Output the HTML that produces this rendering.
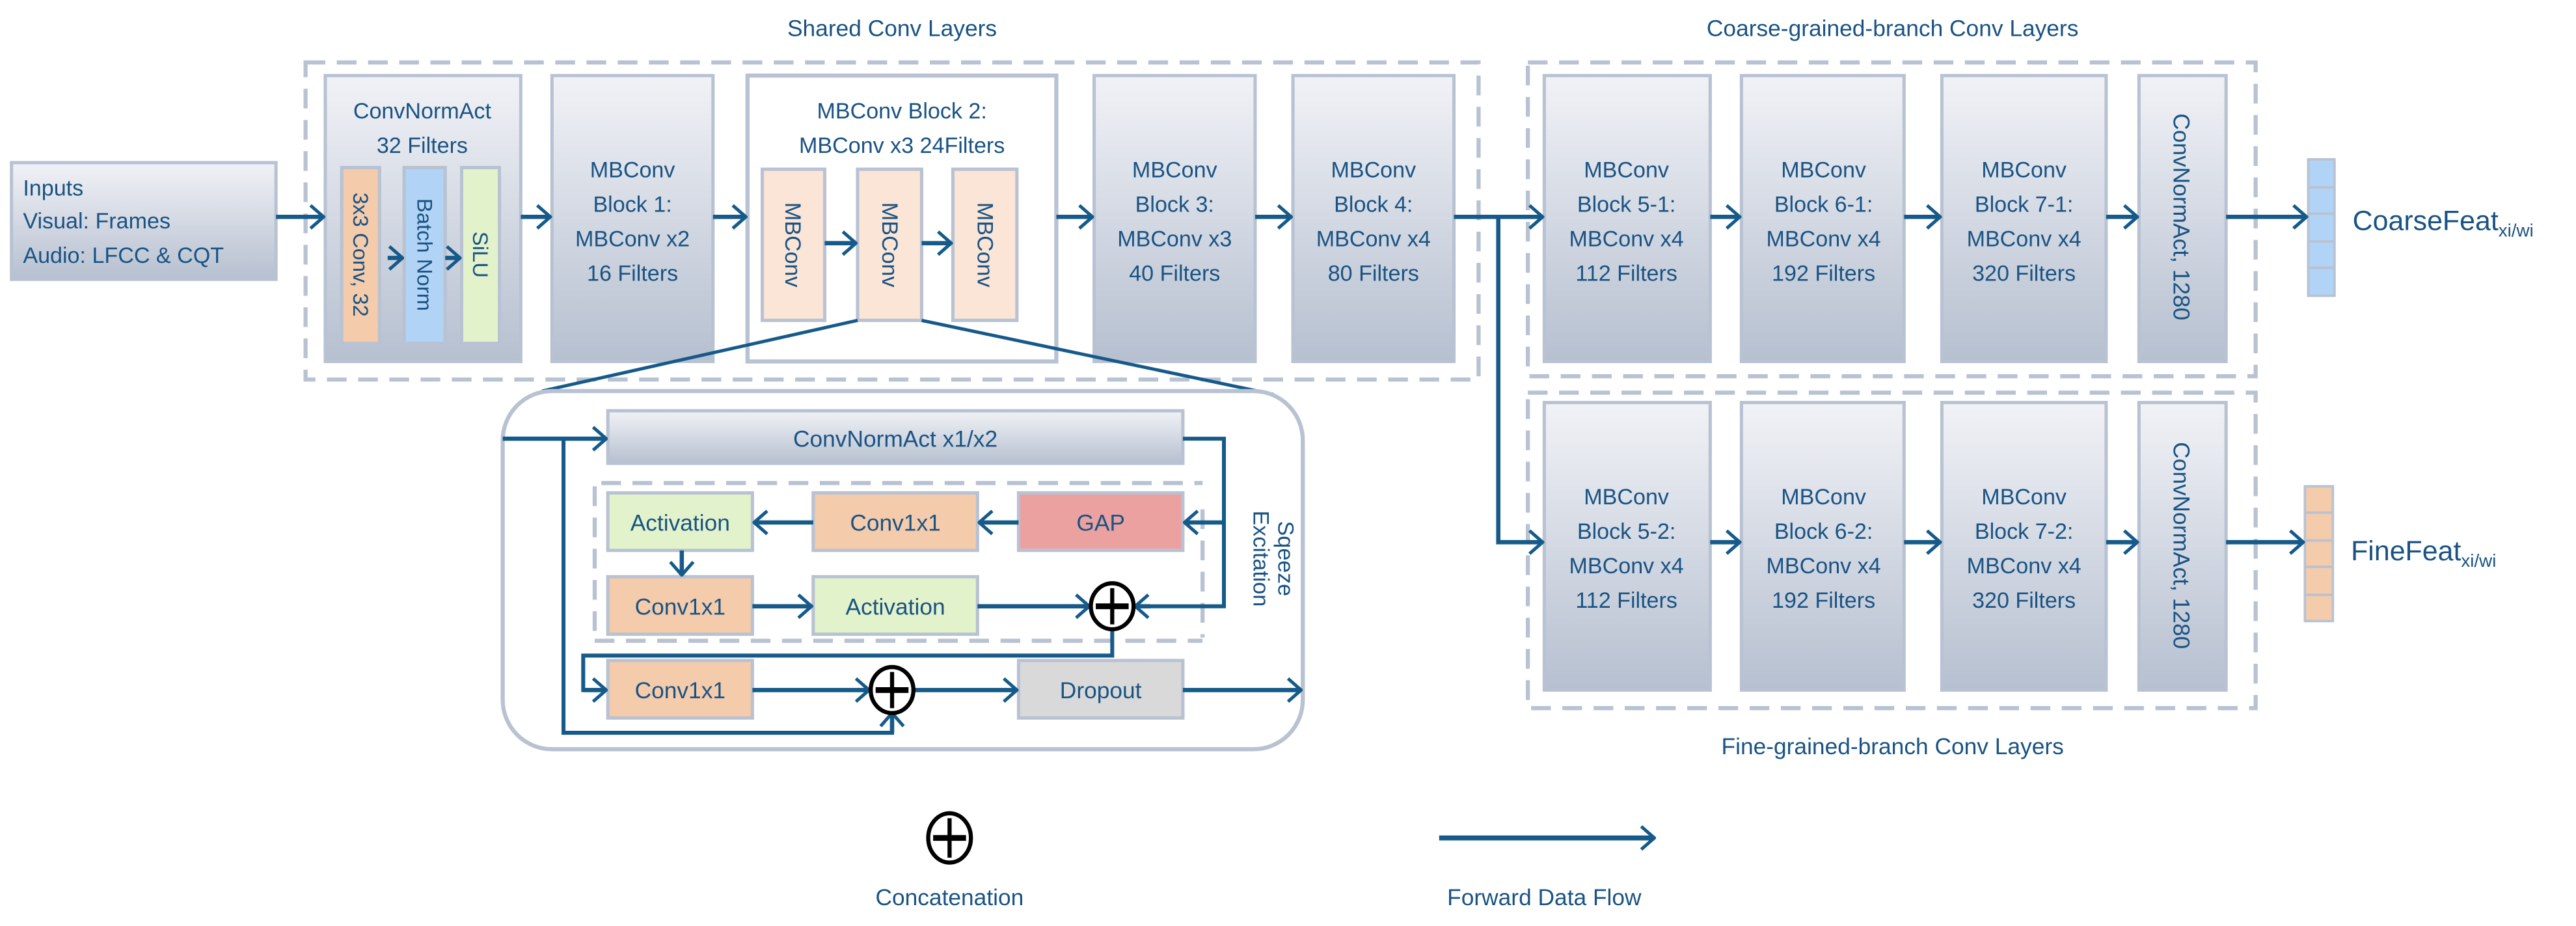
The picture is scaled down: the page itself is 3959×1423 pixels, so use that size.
<!DOCTYPE html>
<html><head><meta charset="utf-8"><style>
html,body{margin:0;padding:0;background:#fff;}
svg{display:block;}
text{font-family:"Liberation Sans Narrow","Liberation Sans",sans-serif;fill:#1a5383;}
</style></head><body>
<svg width="3959" height="1423" viewBox="0 0 1568 563.6" preserveAspectRatio="none" xmlns="http://www.w3.org/2000/svg">
<defs>
<linearGradient id="g" x1="0" y1="0" x2="0" y2="1">
<stop offset="0" stop-color="#f1f2f6"/><stop offset="1" stop-color="#b6c0d0"/>
</linearGradient>
<marker id="a" viewBox="0 0 10 16" refX="9" refY="8" markerWidth="10" markerHeight="16" markerUnits="userSpaceOnUse" orient="auto">
<path d="M1,1 L9,8 L1,15" fill="none" stroke="#165a8a" stroke-width="2"/>
</marker>
</defs>

<g fill="none" stroke="#b8c2d2" stroke-width="2.5" stroke-dasharray="12,7">
<rect x="186" y="38" width="714" height="193"/>
<rect x="930" y="38" width="443" height="191"/>
<rect x="930" y="239" width="443" height="192"/>
</g>

<g font-size="14" text-anchor="middle">
<text x="543" y="22">Shared Conv Layers</text>
<text x="1152" y="22">Coarse-grained-branch Conv Layers</text>
<text x="1152" y="459">Fine-grained-branch Conv Layers</text>
</g>

<rect x="7" y="99" width="161" height="71" fill="url(#g)" stroke="#b8c2d2" stroke-width="2"/>
<g font-size="13.5"><text x="14" y="119">Inputs</text><text x="14" y="139">Visual: Frames</text><text x="14" y="160">Audio: LFCC &amp; CQT</text></g>

<g fill="url(#g)" stroke="#b8c2d2" stroke-width="2">
<rect x="198" y="46" width="119" height="174"/>
<rect x="336" y="46" width="98" height="174"/>
<rect x="666" y="46" width="98" height="174"/>
<rect x="787" y="46" width="98" height="174"/>
<rect x="940" y="46" width="101" height="174"/>
<rect x="1060" y="46" width="99" height="174"/>
<rect x="1182" y="46" width="100" height="174"/>
<rect x="1302" y="46" width="53" height="174"/>
<rect x="940" y="245" width="101" height="175"/>
<rect x="1060" y="245" width="99" height="175"/>
<rect x="1182" y="245" width="100" height="175"/>
<rect x="1302" y="245" width="53" height="175"/>
</g>
<rect x="455" y="46" width="188" height="174" fill="#fff" stroke="#b8c2d2" stroke-width="2.5"/>

<rect x="208" y="102" width="23" height="107" fill="#f4cbab" stroke="#b8c2d2" stroke-width="2"/>
<rect x="246" y="102" width="25" height="107" fill="#b1d3f5" stroke="#b8c2d2" stroke-width="2"/>
<rect x="281" y="102" width="23" height="107" fill="#e2f3cb" stroke="#b8c2d2" stroke-width="2"/>
<g font-size="13.5" text-anchor="middle">
<text x="257" y="72">ConvNormAct</text><text x="257" y="93">32 Filters</text>
</g>
<g font-size="13" text-anchor="middle">
<text transform="translate(215,155) rotate(90)">3x3 Conv, 32</text>
<text transform="translate(254,155) rotate(90)">Batch Norm</text>
<text transform="translate(288,155) rotate(90)">SiLU</text>
</g>

<g fill="#fae5d6" stroke="#b8c2d2" stroke-width="2">
<rect x="464" y="103" width="38" height="92"/>
<rect x="522" y="103" width="39" height="92"/>
<rect x="580" y="103" width="39" height="92"/>
</g>
<g font-size="13.5" text-anchor="middle">
<text transform="translate(478,149) rotate(90)">MBConv</text>
<text transform="translate(537,149) rotate(90)">MBConv</text>
<text transform="translate(595,149) rotate(90)">MBConv</text>
</g>
<g font-size="13.5" text-anchor="middle">
<text x="549" y="72">MBConv Block 2:</text><text x="549" y="93">MBConv x3 24Filters</text>
</g>

<g font-size="13.5" text-anchor="middle">
<text x="385" y="108">MBConv</text><text x="385" y="129">Block 1:</text><text x="385" y="150">MBConv x2</text><text x="385" y="171">16 Filters</text>
<text x="715" y="108">MBConv</text><text x="715" y="129">Block 3:</text><text x="715" y="150">MBConv x3</text><text x="715" y="171">40 Filters</text>
<text x="836" y="108">MBConv</text><text x="836" y="129">Block 4:</text><text x="836" y="150">MBConv x4</text><text x="836" y="171">80 Filters</text>
<text x="990" y="108">MBConv</text><text x="990" y="129">Block 5-1:</text><text x="990" y="150">MBConv x4</text><text x="990" y="171">112 Filters</text>
<text x="1110" y="108">MBConv</text><text x="1110" y="129">Block 6-1:</text><text x="1110" y="150">MBConv x4</text><text x="1110" y="171">192 Filters</text>
<text x="1232" y="108">MBConv</text><text x="1232" y="129">Block 7-1:</text><text x="1232" y="150">MBConv x4</text><text x="1232" y="171">320 Filters</text>
<text x="990" y="307">MBConv</text><text x="990" y="328">Block 5-2:</text><text x="990" y="349">MBConv x4</text><text x="990" y="370">112 Filters</text>
<text x="1110" y="307">MBConv</text><text x="1110" y="328">Block 6-2:</text><text x="1110" y="349">MBConv x4</text><text x="1110" y="370">192 Filters</text>
<text x="1232" y="307">MBConv</text><text x="1232" y="328">Block 7-2:</text><text x="1232" y="349">MBConv x4</text><text x="1232" y="370">320 Filters</text>
</g>
<g font-size="14" text-anchor="middle">
<text transform="translate(1323,132) rotate(90)">ConvNormAct, 1280</text>
<text transform="translate(1323,332) rotate(90)">ConvNormAct, 1280</text>
</g>

<g stroke="#b8c2d2" stroke-width="1.5">
<rect x="1405" y="97" width="16" height="83" fill="#b1d3f5"/>
<line x1="1405" y1="114" x2="1421" y2="114"/><line x1="1405" y1="130" x2="1421" y2="130"/><line x1="1405" y1="147" x2="1421" y2="147"/><line x1="1405" y1="163" x2="1421" y2="163"/>
<rect x="1403" y="296" width="17" height="82" fill="#f4cbab"/>
<line x1="1403" y1="312" x2="1420" y2="312"/><line x1="1403" y1="329" x2="1420" y2="329"/><line x1="1403" y1="345" x2="1420" y2="345"/><line x1="1403" y1="362" x2="1420" y2="362"/>
</g>
<text x="1432" y="140" font-size="17">CoarseFeat<tspan font-size="11" dy="4">xi/wi</tspan></text>
<text x="1431" y="341" font-size="17">FineFeat<tspan font-size="11" dy="4">xi/wi</tspan></text>

<g stroke="#165a8a" stroke-width="2.6" fill="none" marker-end="url(#a)">
<line x1="168" y1="132" x2="197" y2="132"/>
<line x1="317" y1="132" x2="335" y2="132"/>
<line x1="434" y1="132" x2="454" y2="132"/>
<line x1="643" y1="132" x2="665" y2="132"/>
<line x1="764" y1="132" x2="786" y2="132"/>
<line x1="885" y1="132" x2="939" y2="132"/>
<polyline points="912,132 912,330 939,330"/>
<line x1="1041" y1="132" x2="1059" y2="132"/>
<line x1="1159" y1="132" x2="1181" y2="132"/>
<line x1="1282" y1="132" x2="1301" y2="132"/>
<line x1="1355" y1="132" x2="1404" y2="132"/>
<line x1="1041" y1="330" x2="1059" y2="330"/>
<line x1="1159" y1="330" x2="1181" y2="330"/>
<line x1="1282" y1="330" x2="1301" y2="330"/>
<line x1="1355" y1="330" x2="1402" y2="330"/>
<line x1="502" y1="148" x2="521" y2="148"/>
<line x1="561" y1="148" x2="579" y2="148"/>
<line x1="236" y1="157" x2="245" y2="157"/>
<line x1="271" y1="157" x2="280" y2="157"/>
</g>

<g stroke="#165a8a" stroke-width="2">
<line x1="522" y1="195" x2="330" y2="238"/>
<line x1="561" y1="195" x2="775" y2="240"/>
</g>

<rect x="306" y="238" width="487" height="218" rx="30" fill="#fff" stroke="#b8c2d2" stroke-width="2.5"/>
<rect x="370" y="250" width="350" height="32" fill="url(#g)" stroke="#b8c2d2" stroke-width="2"/>
<text x="545" y="272" font-size="14" text-anchor="middle">ConvNormAct x1/x2</text>
<g fill="none" stroke="#b8c2d2" stroke-width="2.5" stroke-dasharray="12,7">
<line x1="366" y1="294" x2="732" y2="294"/>
<line x1="362" y1="390" x2="732" y2="390"/>
<line x1="362" y1="296" x2="362" y2="388"/>
<line x1="732" y1="310" x2="732" y2="388"/>
</g>
<g stroke="#b8c2d2" stroke-width="2">
<rect x="370" y="300" width="88" height="35" fill="#e2f3cb"/>
<rect x="495" y="300" width="100" height="35" fill="#f4cbab"/>
<rect x="620" y="300" width="100" height="35" fill="#eca1a1"/>
<rect x="370" y="351" width="88" height="35" fill="#f4cbab"/>
<rect x="495" y="351" width="100" height="35" fill="#e2f3cb"/>
<rect x="370" y="402" width="88" height="35" fill="#f4cbab"/>
<rect x="620" y="402" width="100" height="35" fill="#d9d9d9"/>
</g>
<g font-size="14" text-anchor="middle">
<text x="414" y="323">Activation</text><text x="545" y="323">Conv1x1</text><text x="670" y="323">GAP</text>
<text x="414" y="374">Conv1x1</text><text x="545" y="374">Activation</text>
<text x="414" y="425">Conv1x1</text><text x="670" y="425">Dropout</text>
</g>
<g font-size="13.5" text-anchor="middle">
<text transform="translate(778,340) rotate(90)">Sqeeze</text>
<text transform="translate(763,340) rotate(90)">Excitation</text>
</g>
<g stroke="#165a8a" stroke-width="2.4" fill="none">
<polyline points="343,267 343,446 543,446 543,436"/>
<polyline points="720,267 745,267 745,369 692,369"/>
<polyline points="677,383 677,399 355,399 355,420 368,420"/>
</g>
<g stroke="#165a8a" stroke-width="2.6" fill="none" marker-end="url(#a)">
<line x1="306" y1="267" x2="369" y2="267"/>
<line x1="745" y1="318" x2="721" y2="318"/>
<line x1="495" y1="318" x2="459" y2="318"/>
<line x1="620" y1="318" x2="596" y2="318"/>
<line x1="415" y1="335" x2="415" y2="350"/>
<line x1="458" y1="369" x2="494" y2="369"/>
<line x1="595" y1="369" x2="663" y2="369"/>
<line x1="700" y1="369" x2="691" y2="369"/>
<line x1="355" y1="420" x2="369" y2="420"/>
<line x1="458" y1="420" x2="529" y2="420"/>
<line x1="557" y1="420" x2="619" y2="420"/>
<line x1="720" y1="420" x2="792" y2="420"/>
<line x1="543" y1="446" x2="543" y2="434"/>
</g>
<g stroke="#000" fill="#fff">
<ellipse cx="677" cy="369" rx="13" ry="14" stroke-width="2.5"/>
<line x1="667" y1="369" x2="687" y2="369" stroke-width="3.5"/><line x1="677" y1="358" x2="677" y2="380" stroke-width="2.5"/>
<ellipse cx="543" cy="420" rx="13" ry="14" stroke-width="2.5"/>
<line x1="533" y1="420" x2="553" y2="420" stroke-width="3.5"/><line x1="543" y1="409" x2="543" y2="431" stroke-width="2.5"/>
<ellipse cx="578" cy="510" rx="13" ry="15" stroke-width="2.5"/>
<line x1="568" y1="510" x2="588" y2="510" stroke-width="3.5"/><line x1="578" y1="498" x2="578" y2="522" stroke-width="2.5"/>
</g>

<line x1="876" y1="510" x2="1007" y2="510" stroke="#165a8a" stroke-width="3" marker-end="url(#a)"/>
<g font-size="14" text-anchor="middle">
<text x="578" y="551">Concatenation</text>
<text x="940" y="551">Forward Data Flow</text>
</g>
</svg>
</body></html>
